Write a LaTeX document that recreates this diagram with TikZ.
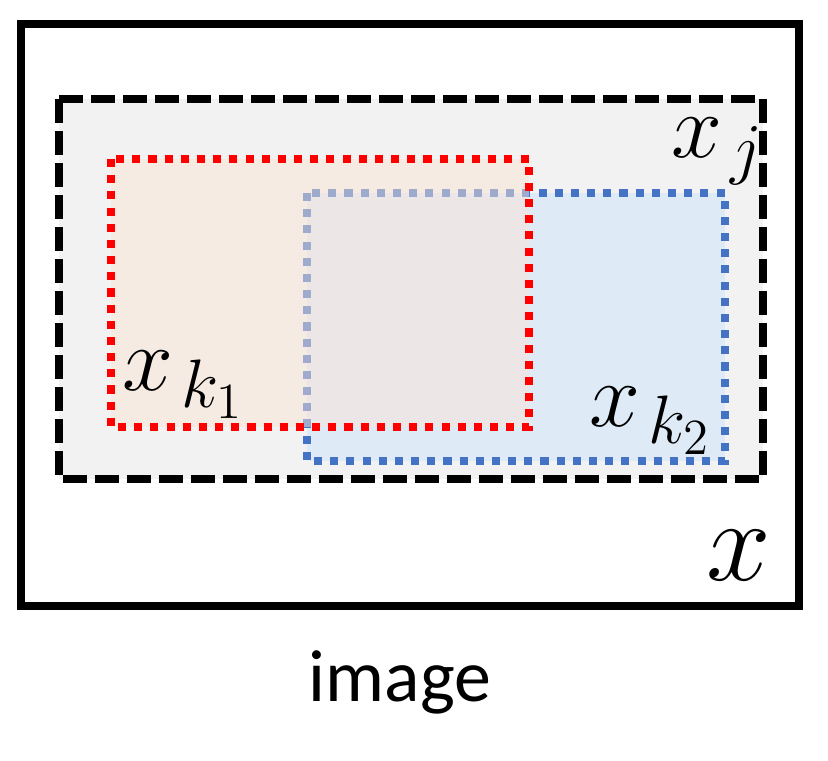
\documentclass[tikz,border=0pt]{standalone}
\usepackage{amsmath}
\usepackage{fontspec}
\setsansfont{Carlito}
\usepackage{tikz}
\usetikzlibrary{positioning}
% scalable math italic for the large labels
\DeclareFontShape{OML}{cmm}{m}{it}{<-7.5>cmmi7 <7.5-11>cmmi10 <11->cmmi12}{}
\DeclareMathSizes{26}{26}{19.5}{15.5}

\definecolor{cropgray}{HTML}{F2F2F2}
\definecolor{regblue}{HTML}{4472C4}
\definecolor{regbluefill}{HTML}{DEEBF7}
\definecolor{regredfill}{HTML}{FBE5D6}

\tikzset{
  framebox/.style={line width=2.3pt},
  cropbox/.style={line width=2.3pt, dash pattern=on 6.8pt off 2.3pt},
  regionbox/.style={line width=2.3pt, dash pattern=on 2.3pt off 2.3pt},
  mathlabel/.style={anchor=base west, inner sep=0pt, font=\fontsize{26}{30}\selectfont},
}

\begin{document}
\begin{tikzpicture}[x=0.01cm, y=-0.01cm]
          \useasboundingbox (0,0) rectangle (828,760);
          % whole image
          \draw[framebox] (21,24) rectangle (799,606);
          % crop x_j
          \fill[cropgray] (59,99) rectangle (763,479);
          \draw[cropbox] (59,99) rectangle (763,479);
          % crop x_k2
          \fill[regbluefill] (307,193) rectangle (725,461);
          \draw[regionbox, regblue] (307,193) rectangle (725,461);
          % crop x_k1
          \fill[regredfill, fill opacity=0.5] (111,159) rectangle (529,427);
          \draw[regionbox, red] (111,159) rectangle (529,427);
          % labels
          \node[mathlabel, font=\fontsize{33}{37}\selectfont] (lblx)
            at (706,580) {$x$};
          \node[mathlabel] (lblxj) at (671,157) {$x_{\mkern2mu j}$};
          \node[mathlabel] (lblxk1) at (122,390) {$x_{\mkern2mu k_1}$};
          \node[mathlabel] (lblxk2) at (589,426) {$x_{\mkern2mu k_2}$};
          \node[font=\sffamily\fontsize{21}{25}\selectfont, anchor=base]
            (caption) at (400,701) {image};
        \end{tikzpicture}
\end{document}
